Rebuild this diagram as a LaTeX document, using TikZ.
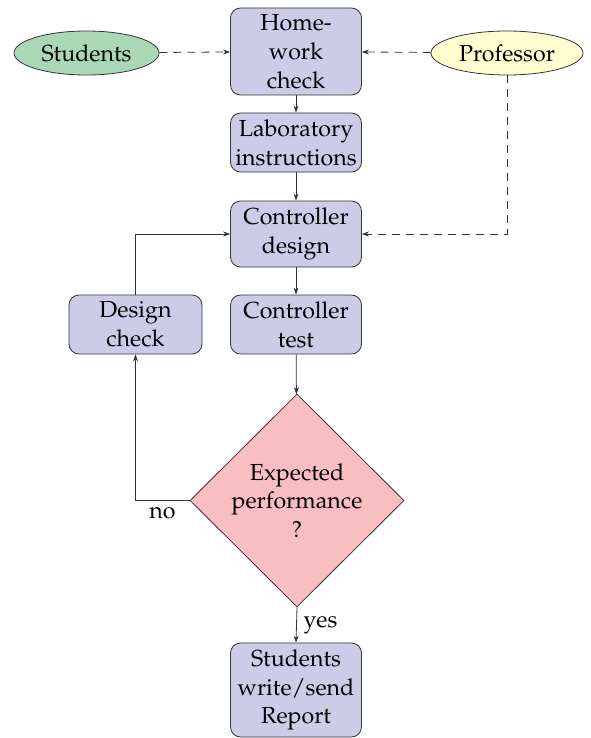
\documentclass[tikz,border=0pt]{standalone}
\usepackage[T1]{fontenc}
\usepackage{mathpazo}
\usetikzlibrary{shapes.geometric,arrows.meta}
\definecolor{boxc}{RGB}{205,204,232}
\definecolor{diac}{RGB}{248,190,193}
\definecolor{stuc}{RGB}{170,216,182}
\definecolor{proc}{RGB}{255,253,208}
\begin{document}
\begin{tikzpicture}[x=0.5pt,y=-0.5pt,
  font=\fontsize{11.6}{14.4}\selectfont,
  box/.style={draw=black!80,fill=boxc,rounded corners=5pt,align=center,minimum width=65.5pt,inner sep=1pt},
  dia/.style={draw=black!80,fill=diac,diamond,align=center,minimum width=107pt,minimum height=106.5pt,inner sep=0pt},
  ell/.style={draw=black!80,ellipse,minimum width=72.5pt,minimum height=22pt,inner sep=0pt},
  arr/.style={-{Stealth[length=3.5pt,width=2.5pt]},draw=black!80,line width=0.4pt},
  darr/.style={arr,dash pattern=on 4pt off 3pt}]
\useasboundingbox (0,0) rectangle (590,738);
\node[box,minimum height=43.5pt] (hw) at (296,51.5) {Home-\\work\\check};
\node[box,minimum height=29.5pt] (lab) at (296,142.5) {Laboratory\\instructions};
\node[box,minimum height=33pt] (cd) at (296,234) {Controller\\design};
\node[box,minimum height=29.5pt] (ct) at (296,324.5) {Controller\\test};
\node[box,minimum height=29.5pt,minimum width=66.5pt] (dc) at (135.5,324.5) {Design\\check};
\node[dia] (ep) at (297,500.5) {Expected\\performance\\?};
\node[box,minimum height=47pt] (rep) at (296,690) {Students\\write/send\\Report};
\node[ell,fill=stuc] (stu) at (86.5,53) {Students};
\node[ell,fill=proc,minimum width=76pt] (pro) at (507,53) {Professor};
\coordinate (pc) at (507,234);
\draw[darr] (stu) -- (hw);
\draw[darr] (pro) -- (hw);
\draw[darr] (pro.south) -- (pc) -- (cd.east);
\draw[arr] (hw) -- (lab);
\draw[arr] (lab) -- (cd);
\draw[arr] (cd) -- (ct);
\draw[arr] (ct) -- (ep);
\draw[arr] (ep.west) -| node[pos=0.25,below] (no) {no} (dc.south);
\draw[arr] (dc.north) |- (cd.west);
\draw[arr] (ep.south) -- node[right] (yes) {yes} (rep.north);
\end{tikzpicture}
\end{document}
